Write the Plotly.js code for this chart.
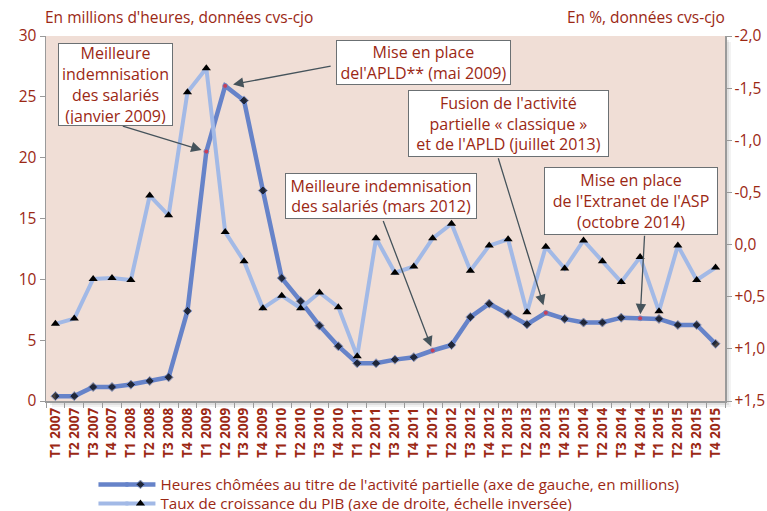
<!DOCTYPE html>
<html>
<head>
<meta charset="utf-8">
<script src="https://cdn.plot.ly/plotly-3.0.1.min.js"></script>
<style>html,body{margin:0;padding:0;background:#fff;}#chart{width:767px;height:511px;}</style>
</head>
<body>
<div id="chart"></div>
<script>
const quarters = ['T1 2007','T2 2007','T3 2007','T4 2007','T1 2008','T2 2008','T3 2008','T4 2008',
  'T1 2009','T2 2009','T3 2009','T4 2009','T1 2010','T2 2010','T3 2010','T4 2010',
  'T1 2011','T2 2011','T3 2011','T4 2011','T1 2012','T2 2012','T3 2012','T4 2012',
  'T1 2013','T2 2013','T3 2013','T4 2013','T1 2014','T2 2014','T3 2014','T4 2014',
  'T1 2015','T2 2015','T3 2015','T4 2015'];
// Heures chômées (millions)
const heures = [0.4,0.4,1.15,1.15,1.35,1.65,1.95,7.4,
  20.5,25.9,24.7,17.3,10.1,8.2,6.2,4.5,
  3.1,3.1,3.4,3.6,4.15,4.6,6.9,8.0,
  7.15,6.3,7.25,6.75,6.45,6.45,6.85,6.8,
  6.75,6.25,6.25,4.7];
// Taux de croissance du PIB (%)
const pib = [0.76,0.71,0.33,0.32,0.34,-0.47,-0.28,-1.46,
  -1.69,-0.12,0.16,0.61,0.49,0.61,0.46,0.60,
  1.07,-0.06,0.27,0.21,-0.06,-0.20,0.25,0.01,
  -0.05,0.65,0.02,0.23,-0.04,0.16,0.36,0.12,
  0.64,0.01,0.34,0.22];
const highlighted = ['T1 2009','T2 2009','T1 2012','T3 2013','T4 2014'];
const rightTickVals = [-2,-1.5,-1,-0.5,0,0.5,1,1.5];
const rightTickText = ['-2,0','-1,5','-1,0','-0,5','0,0','+0,5','+1,0','+1,5'];
const legendNames = ["Heures chômées au titre de l'activité partielle (axe de gauche, en millions)",
  "Taux de croissance du PIB (axe de droite, échelle inversée)"];
const notes = [
  {text:'Meilleure<br>indemnisation<br>des salariés<br>(janvier 2009)', at:'T1 2009'},
  {text:"Mise en place<br>del'APLD** (mai 2009)", at:'T2 2009'},
  {text:"Fusion de l'activité<br>partielle « classique »<br>et de l'APLD (juillet 2013)", at:'T3 2013'},
  {text:'Meilleure indemnisation<br>des salariés (mars 2012)', at:'T1 2012'},
  {text:"Mise en place<br>de l'Extranet de l'ASP<br>(octobre 2014)", at:'T4 2014'}
];

const RED = '#9B2814';
const FONT = 'Open Sans, Noto Sans, sans-serif';
const C1 = '#6683C9', C2 = '#A2B9E6';

const isHi = quarters.map(q => highlighted.includes(q));
const t1 = {
  x: quarters, y: heures, name: legendNames[0], type:'scatter', mode:'lines+markers',
  line:{color:C1, width:4.5},
  marker:{symbol: isHi.map(h=>h?'circle':'diamond'), size: isHi.map(h=>h?5:7),
          color: isHi.map(h=>h?'#F0242A':'#000')},
  yaxis:'y', legend:'legend'
};
const t2 = {
  x: quarters, y: pib, name: legendNames[1], type:'scatter', mode:'lines+markers',
  line:{color:C2, width:4},
  marker:{symbol:'triangle-up', size:8, color:'#000'},
  yaxis:'y2', legend:'legend2'
};

// geometry helpers (paper coords)
const L=45.5, R=725, T=36, B=401;
const px = v => (v-L)/(R-L), py = v => (B-v)/(B-T);

const boxes = [
  {cx:115.2, cy:84.2, w:111, h:79},
  {cx:423.4, cy:62.5, w:171, h:41},
  {cx:508, cy:123.7, w:197, h:63},
  {cx:380.8, cy:196.2, w:188, h:42},
  {cx:631.3, cy:200.5, w:170, h:64}
];
const arrows = [
  {ax:-85, ay:-26, so:5},
  {ax:107, ay:-20, so:8},
  {ax:-48, ay:-156, so:8},
  {ax:-50, ay:-131, so:4},
  {ax:4.5, ay:-84, so:4}
];

const annotations = [];
notes.forEach((n,i)=>{
  const idx = quarters.indexOf(n.at);
  annotations.push({
    x:n.at, y:heures[idx], xref:'x', yref:'y', text:'', showarrow:true,
    ax:arrows[i].ax, ay:arrows[i].ay, arrowhead:2, arrowsize:1.6, arrowwidth:1.3,
    arrowcolor:'#45535B', standoff:arrows[i].so
  });
});
notes.forEach((n,i)=>{
  const b = boxes[i];
  annotations.push({
    x:px(b.cx), y:py(b.cy), xref:'paper', yref:'paper', xanchor:'center', yanchor:'middle',
    text:n.text, showarrow:false, width:b.w, height:b.h, align:'center', valign:'middle',
    bgcolor:'#fff', bordercolor:'#6B7073', borderwidth:1, borderpad:1,
    font:{family:FONT, size:16, color:RED}
  });
});
annotations.push({x:px(42), y:py(17), xref:'paper', yref:'paper', xanchor:'left', yanchor:'middle',
  text:"En millions d'heures, données cvs-cjo", showarrow:false, font:{family:FONT,size:15.5,color:RED}});
annotations.push({x:px(727), y:py(17), xref:'paper', yref:'paper', xanchor:'right', yanchor:'middle',
  text:'En %, données cvs-cjo', showarrow:false, font:{family:FONT,size:15.5,color:RED}});

const shapes = [];
[[6,0.05],[4,0.07],[2,0.09]].forEach(([o,a])=>{
  shapes.push({type:'rect', xref:'paper', yref:'paper', x0:px(L+o), x1:px(R+o), y0:py(B+o), y1:py(T+o),
    fillcolor:'rgba(0,0,0,'+a+')', line:{width:0}, layer:'below'});
});
shapes.push({type:'rect', xref:'paper', yref:'paper', x0:0, x1:1, y0:0, y1:1,
  fillcolor:'#F0DED6', line:{width:0}, layer:'below'});
// longer legend keys, as in the reference
const LEG1 = 484.5, LEG2 = 503.5;
shapes.push({type:'line', xref:'paper', yref:'paper', x0:px(98), x1:px(128), y0:py(LEG1), y1:py(LEG1),
  line:{color:C1, width:4.5}});
shapes.push({type:'line', xref:'paper', yref:'paper', x0:px(98), x1:px(128), y0:py(LEG2), y1:py(LEG2),
  line:{color:C2, width:4}});

const legendBase = {xanchor:'left', yanchor:'middle', font:{family:FONT, size:15.2, color:RED},
  bgcolor:'rgba(0,0,0,0)', borderwidth:0};

const layout = {
  width:767, height:511,
  margin:{l:L, r:767-R, t:T, b:511-B, autoexpand:false},
  paper_bgcolor:'#fff', plot_bgcolor:'rgba(0,0,0,0)',
  font:{family:FONT, color:RED},
  showlegend:true,
  legend:Object.assign({x:px(120), y:py(LEG1)}, legendBase),
  legend2:Object.assign({x:px(120), y:py(LEG2)}, legendBase),
  xaxis:{type:'category', range:[-0.5,35.5], showgrid:false, zeroline:false, showline:true,
    linecolor:'#9A9A9A', linewidth:1.5, ticks:'outside', tickson:'boundaries', ticklen:5, tickcolor:'#9A9A9A',
    tickangle:-90, tickfont:{family:FONT, size:13.5, color:RED, weight:'bold'}, automargin:false},
  yaxis:{range:[0,30], tickvals:[0,5,10,15,20,25,30], showgrid:false, zeroline:false, showline:true,
    linecolor:'#9A9A9A', linewidth:1.5, ticks:'outside', ticklen:5, tickcolor:'#9A9A9A',
    tickfont:{family:FONT, size:15.5, color:RED}, automargin:false},
  yaxis2:{overlaying:'y', side:'right', range:[1.5,-2.0], tickvals:rightTickVals, ticktext:rightTickText,
    showgrid:false, zeroline:false, showline:true, linecolor:'#9A9A9A', linewidth:1.5,
    ticks:'outside', ticklen:5, tickcolor:'#9A9A9A', tickfont:{family:FONT, size:15.5, color:RED}, automargin:false},
  annotations: annotations,
  shapes: shapes
};

Plotly.newPlot('chart', [t1, t2], layout, {displayModeBar:false, staticPlot:true});
</script>
</body>
</html>
